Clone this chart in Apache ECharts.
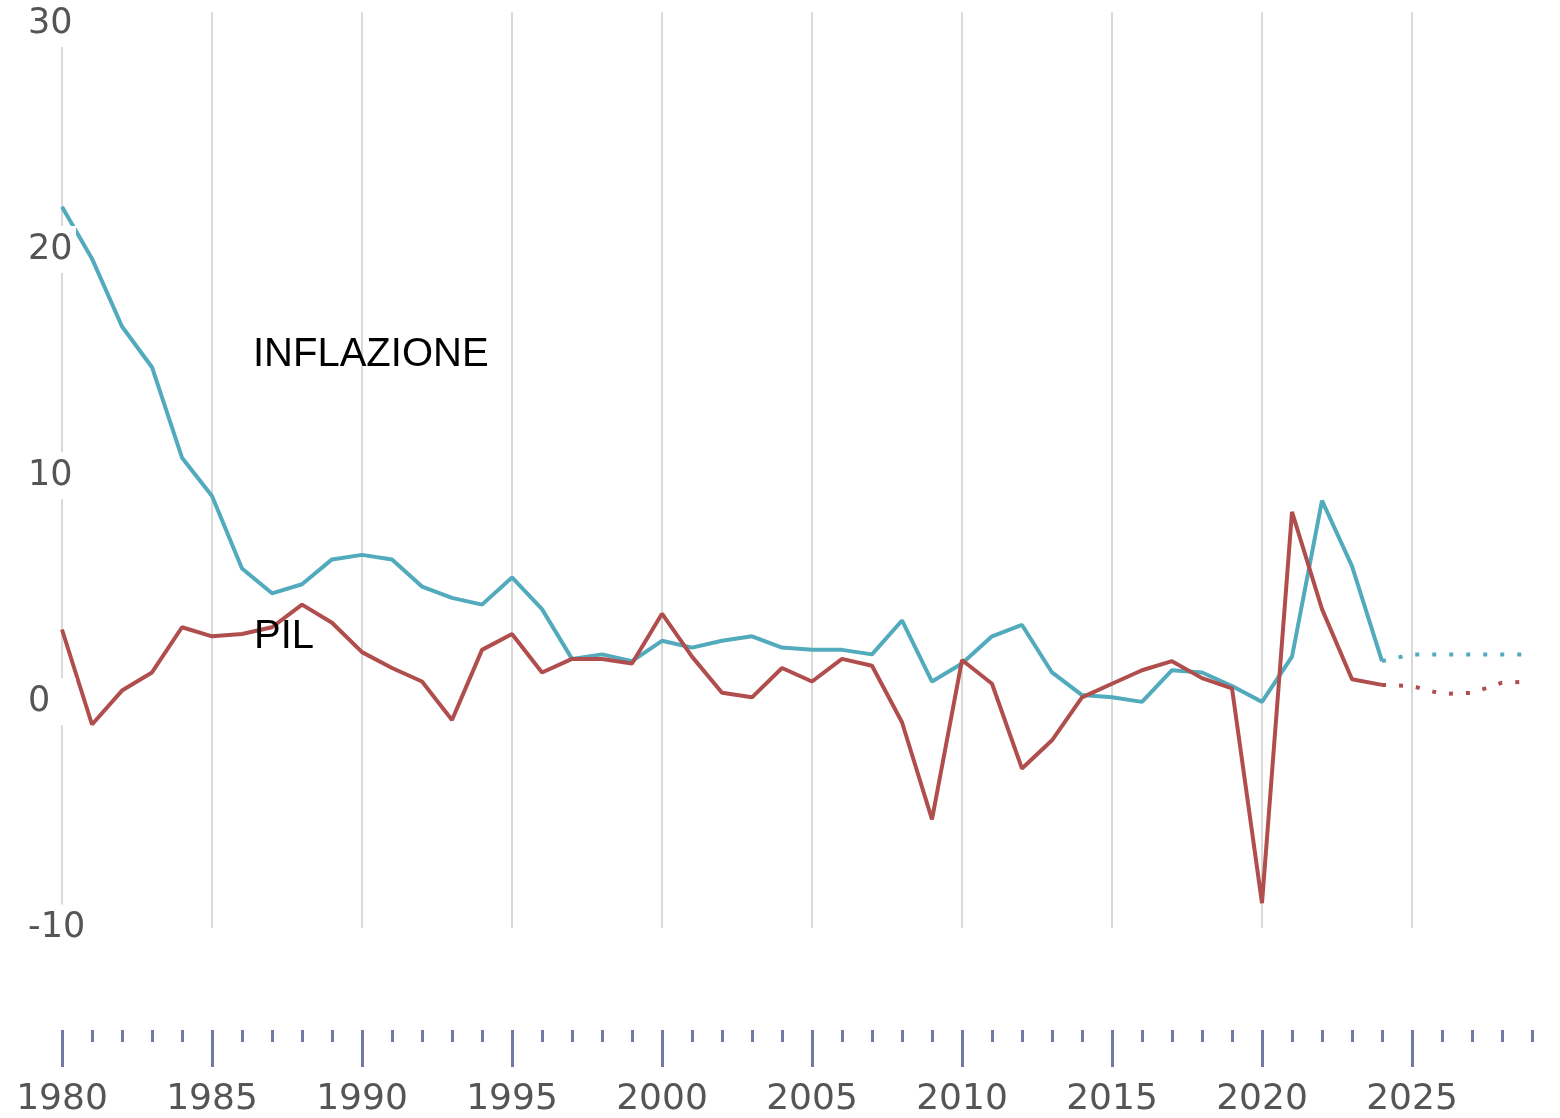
<!DOCTYPE html>
<html>
<head>
<meta charset="utf-8">
<script src="https://cdn.jsdelivr.net/npm/echarts@6/dist/echarts.min.js"></script>
<style>
html,body{margin:0;padding:0;background:#fff;overflow:hidden;}
#chart{width:1566px;height:1118px;}
</style>
</head>
<body>
<div id="chart"></div>
<script>
// ---- Data ----
const years = [1980,1981,1982,1983,1984,1985,1986,1987,1988,1989,
               1990,1991,1992,1993,1994,1995,1996,1997,1998,1999,
               2000,2001,2002,2003,2004,2005,2006,2007,2008,2009,
               2010,2011,2012,2013,2014,2015,2016,2017,2018,2019,
               2020,2021,2022,2023,2024];
const inflazione = [21.9,19.6,16.6,14.8,10.8,9.1,5.9,4.8,5.2,6.3,
                    6.5,6.3,5.1,4.6,4.3,5.5,4.1,1.9,2.1,1.8,
                    2.7,2.4,2.7,2.9,2.4,2.3,2.3,2.1,3.6,0.9,
                    1.7,2.9,3.4,1.3,0.3,0.2,0.0,1.4,1.3,0.7,
                    0.0,2.0,8.9,6.0,1.8];
const pil = [3.2,-1.0,0.5,1.3,3.3,2.9,3.0,3.3,4.3,3.5,
             2.2,1.5,0.9,-0.8,2.3,3.0,1.3,1.9,1.9,1.7,
             3.9,2.0,0.4,0.2,1.5,0.9,1.9,1.6,-0.9,-5.2,
             1.85,0.8,-2.95,-1.7,0.2,0.8,1.4,1.8,1.05,0.6,
             -8.9,8.4,4.1,1.0,0.75];
const forecastYears = [2024,2025,2026,2027,2028,2029];
const inflazionePrev = [1.8,2.1,2.1,2.1,2.1,2.1];
const pilPrev = [0.75,0.7,0.35,0.4,0.85,0.9];
const yTicks = [-10,0,10,20,30];
const annotations = [
  {text:'INFLAZIONE', px:[253,355]},
  {text:'PIL', px:[254,637]}
];

const TEAL = '#52aabd';
const RED = '#b04e4d';
const pairs = (xs, ys) => xs.map((x,i)=>[x, ys[i]]);

const chart = echarts.init(document.getElementById('chart'), null, {renderer:'canvas'});
chart.setOption({
  animation:false,
  backgroundColor:'#ffffff',
  grid:{left:62, top:12, width:1500, height:918, containLabel:false},
  xAxis:{
    type:'value', min:1980, max:2030, interval:5,
    position:'bottom', offset:102,
    axisLine:{show:false, onZero:false},
    axisTick:{show:true, length:37, lineStyle:{color:'#7279a2', width:3}},
    minorTick:{show:true, splitNumber:5, length:12, lineStyle:{color:'#7279a2', width:3}},
    splitLine:{show:true, lineStyle:{color:'#d9d9d9', width:2}},
    minorSplitLine:{show:false},
    axisLabel:{show:true, margin:52, color:'#555555', fontSize:36,
      fontFamily:'DejaVu Sans', showMaxLabel:false,
      formatter:(v)=>String(v)}
  },
  yAxis:{
    type:'value', min:-10, max:30.5, interval:10, z:10,
    axisLine:{show:false}, axisTick:{show:false},
    splitLine:{show:false},
    axisLabel:{show:true, showMaxLabel:false, align:'left', margin:34,
      color:'#555555', fontSize:35, fontFamily:'DejaVu Sans',
      backgroundColor:'#ffffff', width:44, padding:[6,4,6,0],
      formatter:(v)=> yTicks.indexOf(v) >= 0 ? String(v) : ''}
  },
  series:[
    {type:'line', name:'Inflazione', data:pairs(years, inflazione), showSymbol:false,
     lineStyle:{color:TEAL, width:4}, z:3},
    {type:'line', name:'PIL', data:pairs(years, pil), showSymbol:false,
     lineStyle:{color:RED, width:4}, z:3},
    {type:'line', name:'Inflazione prev.', data:pairs(forecastYears, inflazionePrev), showSymbol:false,
     lineStyle:{color:TEAL, width:4, type:[4,13]}, z:3},
    {type:'line', name:'PIL prev.', data:pairs(forecastYears, pilPrev), showSymbol:false,
     lineStyle:{color:RED, width:4, type:[4,13]}, z:3}
  ],
  graphic: annotations.map(a=>({
    type:'text', x:a.px[0], y:a.px[1], z:20,
    style:{text:a.text, fill:'#000000', font:'40px "Liberation Sans", Arial, sans-serif',
      textAlign:'left', textVerticalAlign:'middle'}
  }))
});
</script>
</body>
</html>
